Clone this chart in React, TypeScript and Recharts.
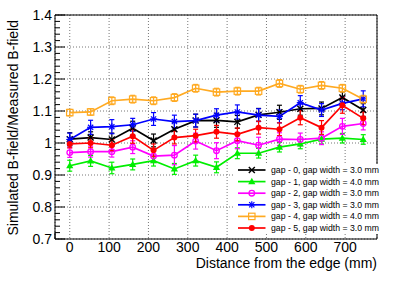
import React from "react";
import {
  ComposedChart,
  Line,
  XAxis,
  YAxis,
  CartesianGrid,
  ErrorBar,
  ReferenceArea,
} from "recharts";

// Distance from the edge (mm)
const distance = [0, 53, 107, 160, 213, 266, 320, 373, 426, 480, 533, 586, 640, 693, 746];

const gap0 = [1.012, 1.017, 1.011, 1.046, 1.008, 1.043, 1.07, 1.071, 1.066, 1.088, 1.096, 1.107, 1.108, 1.142, 1.103];
const gap0Err = [0.02, 0.018, 0.02, 0.022, 0.02, 0.022, 0.02, 0.022, 0.02, 0.02, 0.022, 0.02, 0.02, 0.018, 0.02];
const gap1 = [0.929, 0.944, 0.922, 0.933, 0.945, 0.919, 0.945, 0.924, 0.968, 0.968, 0.987, 0.997, 1.012, 1.015, 1.011];
const gap1Err = [0.017, 0.017, 0.018, 0.017, 0.017, 0.017, 0.017, 0.017, 0.017, 0.015, 0.015, 0.015, 0.015, 0.015, 0.015];
const gap2 = [0.97, 0.973, 0.973, 0.987, 0.959, 0.962, 1.006, 0.976, 1.007, 0.993, 1.012, 1.011, 1.015, 1.052, 1.061];
const gap2Err = [0.015, 0.017, 0.017, 0.02, 0.02, 0.03, 0.025, 0.025, 0.025, 0.025, 0.02, 0.02, 0.02, 0.025, 0.02];
const gap3 = [1.011, 1.049, 1.051, 1.057, 1.075, 1.067, 1.07, 1.087, 1.097, 1.087, 1.083, 1.126, 1.103, 1.124, 1.138];
const gap3Err = [0.02, 0.022, 0.022, 0.02, 0.02, 0.02, 0.02, 0.02, 0.022, 0.02, 0.02, 0.022, 0.02, 0.02, 0.025];
const gap4 = [1.095, 1.097, 1.132, 1.137, 1.132, 1.142, 1.171, 1.159, 1.162, 1.162, 1.186, 1.168, 1.18, 1.171, 1.137];
const gap4Err = [0.01, 0.01, 0.012, 0.012, 0.012, 0.012, 0.012, 0.012, 0.012, 0.012, 0.012, 0.012, 0.012, 0.012, 0.012];
const gap5 = [0.997, 1.0, 0.993, 1.021, 0.977, 1.017, 1.023, 1.035, 1.027, 1.048, 1.043, 1.079, 1.048, 1.118, 1.077];
const gap5Err = [0.012, 0.015, 0.017, 0.022, 0.02, 0.02, 0.02, 0.02, 0.02, 0.02, 0.02, 0.022, 0.022, 0.025, 0.02];

const legendLabels = [
  "gap - 0, gap width = 3.0 mm",
  "gap - 1, gap width = 4.0 mm",
  "gap - 2, gap width = 3.0 mm",
  "gap - 3, gap width = 3.0 mm",
  "gap - 4, gap width = 4.0 mm",
  "gap - 5, gap width = 3.0 mm",
];

const xTicks = [0, 100, 200, 300, 400, 500, 600, 700];
const yTicks = [0.7, 0.8, 0.9, 1.0, 1.1, 1.2, 1.3, 1.4];
const xMinorTicks = Array.from({ length: 41 }, (_, i) => -20 + i * 20);
const yMinorTicks = Array.from({ length: 36 }, (_, i) => Math.round((0.7 + i * 0.02) * 1000) / 1000);

const X_DOMAIN: [number, number] = [-37.5, 781];
const Y_DOMAIN: [number, number] = [0.7, 1.4];
const FONT = "'Liberation Sans', Arial, Helvetica, sans-serif";

const series = [
  { key: "g0", values: gap0, errs: gap0Err, color: "#000000", marker: "x" },
  { key: "g1", values: gap1, errs: gap1Err, color: "#00ee00", marker: "tri" },
  { key: "g2", values: gap2, errs: gap2Err, color: "#ff00ff", marker: "ocircle" },
  { key: "g3", values: gap3, errs: gap3Err, color: "#0000ff", marker: "star" },
  { key: "g4", values: gap4, errs: gap4Err, color: "#ffaa22", marker: "osquare" },
  { key: "g5", values: gap5, errs: gap5Err, color: "#ff0000", marker: "circle" },
];

const data = distance.map((x, i) => {
  const row: Record<string, number> = { x };
  series.forEach((s) => {
    row[s.key] = s.values[i];
    row[s.key + "Err"] = s.errs[i];
  });
  return row;
});

function Marker({ cx, cy, kind, color }: { cx: number; cy: number; kind: string; color: string }) {
  if (cx == null || cy == null || isNaN(cx) || isNaN(cy)) return <g />;
  const sw = 1.4;
  switch (kind) {
    case "x":
      return (
        <g stroke={color} strokeWidth={sw}>
          <line x1={cx - 3} y1={cy - 3} x2={cx + 3} y2={cy + 3} />
          <line x1={cx - 3} y1={cy + 3} x2={cx + 3} y2={cy - 3} />
        </g>
      );
    case "tri":
      return (
        <polygon
          points={`${cx},${cy - 3.8} ${cx - 3.6},${cy + 2.6} ${cx + 3.6},${cy + 2.6}`}
          fill={color}
        />
      );
    case "ocircle":
      return <circle cx={cx} cy={cy} r={2.8} fill="none" stroke={color} strokeWidth={1.3} />;
    case "star":
      return (
        <g stroke={color} strokeWidth={1.2}>
          <line x1={cx - 3.5} y1={cy} x2={cx + 3.5} y2={cy} />
          <line x1={cx} y1={cy - 3.5} x2={cx} y2={cy + 3.5} />
          <line x1={cx - 2.6} y1={cy - 2.6} x2={cx + 2.6} y2={cy + 2.6} />
          <line x1={cx - 2.6} y1={cy + 2.6} x2={cx + 2.6} y2={cy - 2.6} />
        </g>
      );
    case "osquare":
      return <rect x={cx - 3.2} y={cy - 3.2} width={6.4} height={6.4} fill="none" stroke={color} strokeWidth={1.2} />;
    case "circle":
    default:
      return <circle cx={cx} cy={cy} r={3} fill={color} />;
  }
}

const isMajor = (v: number, step: number) => Math.abs(v / step - Math.round(v / step)) < 1e-6;

const XMinorTick = (props: any) => {
  const { x, y, payload } = props;
  const len = isMajor(payload.value, 100) ? 6.5 : 3.5;
  return <line x1={x} y1={y} x2={x} y2={y - len} stroke="#000" strokeWidth={1} />;
};

const YMinorTick = (props: any) => {
  const { x, y, payload } = props;
  const len = isMajor(payload.value, 0.1) ? 10 : 5;
  return <line x1={x} y1={y} x2={x + len} y2={y} stroke="#000" strokeWidth={1} />;
};

export default function App() {
  return (
    <div style={{ position: "absolute", left: 0, top: 0, width: 415, height: 281, background: "#fff" }}>
      <ComposedChart
        width={415}
        height={281}
        data={data}
        margin={{ top: 15, right: 38, bottom: 0, left: 0 }}
        style={{ fontFamily: FONT }}
      >
        <CartesianGrid stroke="#777" strokeDasharray="1 2" strokeWidth={1} />
        <XAxis
          dataKey="x"
          type="number"
          domain={X_DOMAIN}
          allowDataOverflow
          ticks={xTicks}
          interval={0}
          height={42}
          tickLine={false}
          axisLine={false}
          tickSize={0}
          tickMargin={3}
          tick={{ fontSize: 14, fill: "#000", fontFamily: FONT }}
        />
        <XAxis
          xAxisId="minorX"
          type="number"
          domain={X_DOMAIN}
          allowDataOverflow
          ticks={xMinorTicks}
          interval={0}
          mirror
          tickLine={false}
          axisLine={false}
          tickSize={0}
          tickMargin={0}
          tick={<XMinorTick />}
        />
        <YAxis
          type="number"
          domain={Y_DOMAIN}
          allowDataOverflow
          ticks={yTicks}
          interval={0}
          width={55}
          tickLine={false}
          axisLine={false}
          tickSize={0}
          tickMargin={3}
          tickFormatter={(v: number) => (v === 1 ? "1" : v.toFixed(1))}
          tick={{ fontSize: 14, fill: "#000", fontFamily: FONT }}
        />
        <YAxis
          yAxisId="minorY"
          type="number"
          domain={Y_DOMAIN}
          allowDataOverflow
          ticks={yMinorTicks}
          interval={0}
          mirror
          tickLine={false}
          axisLine={false}
          tickSize={0}
          tickMargin={0}
          tick={<YMinorTick />}
        />
        <ReferenceArea
          x1={X_DOMAIN[0]}
          x2={X_DOMAIN[1]}
          y1={Y_DOMAIN[0]}
          y2={Y_DOMAIN[1]}
          fill="none"
          fillOpacity={0}
          stroke="#000"
          strokeWidth={1}
        />
        {series.map((s) => (
          <Line
            key={s.key}
            dataKey={s.key}
            type="linear"
            stroke={s.color}
            strokeWidth={1.7}
            isAnimationActive={false}
            dot={(p: any) => (
              <Marker key={`${s.key}-${p.index}`} cx={p.cx} cy={p.cy} kind={s.marker} color={s.color} />
            )}
            activeDot={false}
          >
            <ErrorBar
              dataKey={s.key + "Err"}
              direction="y"
              width={2.5}
              stroke={s.color}
              strokeWidth={1.2}
              isAnimationActive={false}
            />
          </Line>
        ))}
      </ComposedChart>
      <svg
        width={415}
        height={281}
        style={{ position: "absolute", left: 0, top: 0, pointerEvents: "none", fontFamily: FONT }}
      >
        <text transform="rotate(-90)" x={-20} y={18} textAnchor="end" fontSize={14} fill="#000">
          Simulated B-field/Measured B-field
        </text>
        <text x={377} y={268} textAnchor="end" fontSize={14} fill="#000">
          Distance from the edge (mm)
        </text>
        <rect x={233} y={164} width={151} height={70} fill="#fff" />
        {series.map((s, i) => {
          const cy = 170 + i * 11.6;
          return (
            <g key={s.key}>
              <line x1={238} y1={cy} x2={265.5} y2={cy} stroke={s.color} strokeWidth={1.7} />
              <Marker cx={251.8} cy={cy} kind={s.marker} color={s.color} />
              <text x={271} y={cy} dy="0.35em" fontSize={8.7} fill="#000">
                {legendLabels[i]}
              </text>
            </g>
          );
        })}
      </svg>
    </div>
  );
}
